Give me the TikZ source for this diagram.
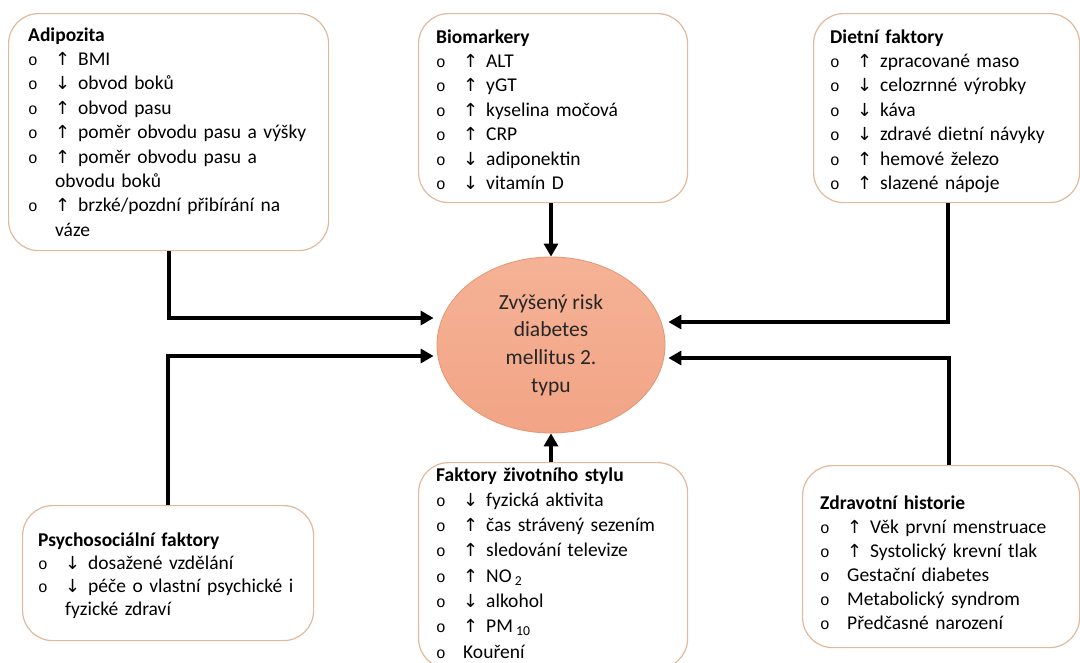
\documentclass[tikz,border=0pt]{standalone}
\usepackage{fontspec}
\setmainfont{Carlito}
\newfontfamily\arrfont{DejaVu Sans}
\newfontfamily\bulfont{Liberation Mono}
\usetikzlibrary{arrows.meta,shapes.geometric}

\definecolor{boxline}{RGB}{226,186,155}
\definecolor{risktop}{RGB}{245,178,150}
\definecolor{riskbot}{RGB}{242,164,134}
\definecolor{riskline}{RGB}{230,150,112}
\definecolor{risktext}{RGB}{38,38,38}

% list helpers: hollow bullet, hanging indent, up/down markers
\newcommand\bul{{\bulfont\fontsize{16}{16}\selectfont o}}
\newcommand\itm{\par\hangindent=27pt\hangafter=1\noindent\makebox[27pt][l]{\bul}}
\newcommand\up{\makebox[23pt][l]{\arrfont\fontsize{18}{18}\selectfont ↑}}
\newcommand\dn{\makebox[23pt][l]{\arrfont\fontsize{18}{18}\selectfont ↓}}

\tikzset{
  x=1pt, y=-1pt,
  factorbox/.style={draw=boxline, line width=1.2pt, rounded corners=30pt,
    fill=white, inner sep=0pt, anchor=north west},
  listtext/.style={anchor=base west, inner sep=0pt, text width=300pt,
    align=left, font=\fontsize{19.5}{#1}\selectfont},
  listtext/.default=24.4,
  conn/.style={line width=4pt, -{Triangle[length=13pt,width=14pt]}},
}

\begin{document}
\begin{tikzpicture}
\clip (0,0) rectangle (1080,662);
\fill[white] (0,0) rectangle (1080,662);

% outer factor boxes
\node[factorbox, minimum width=320pt, minimum height=237pt] (adip)  at (8,13)   {};
\node[factorbox, minimum width=269pt, minimum height=189pt] (bio)   at (418,13) {};
\node[factorbox, minimum width=266pt, minimum height=189pt] (diet)  at (813,13) {};
\node[factorbox, minimum width=291pt, minimum height=135pt] (psych) at (22,505) {};
\node[factorbox, minimum width=269pt, minimum height=206pt] (life)  at (418,462){};
\node[factorbox, minimum width=277pt, minimum height=182pt] (zdrav) at (802,465){};

% central outcome
\node[ellipse, draw=riskline, line width=0.8pt, top color=risktop,
      bottom color=riskbot, minimum width=228pt, minimum height=176pt,
      inner sep=0pt, align=center, text=risktext,
      font=\fontsize{21.5}{27.7}\selectfont] (risk) at (551,345)
  {Zvýšený risk\\diabetes\\mellitus 2.\\typu};

% box contents
\node[listtext] (adipT) at (28,41) {{\bfseries Adipozita}
  \itm\up BMI
  \itm\dn obvod boků
  \itm\up obvod pasu
  \itm\up poměr obvodu pasu a výšky
  \itm\up poměr obvodu pasu a\newline obvodu boků
  \itm\up brzké/pozdní přibírání na\newline váze\par};

\node[listtext] (bioT) at (436,43) {{\bfseries Biomarkery}
  \itm\up ALT
  \itm\up yGT
  \itm\up kyselina močová
  \itm\up CRP
  \itm\dn adiponektin
  \itm\dn vitamín D\par};

\node[listtext] (dietT) at (830,43) {{\bfseries Dietní faktory}
  \itm\up zpracované maso
  \itm\dn celozrnné výrobky
  \itm\dn káva
  \itm\dn zdravé dietní návyky
  \itm\up hemové železo
  \itm\up slazené nápoje\par};

\node[listtext=23] (psychT) at (38,546) {{\bfseries Psychosociální faktory}
  \itm\dn dosažené vzdělání
  \itm\dn péče o vlastní psychické i\newline fyzické zdraví\par};

\node[listtext=25.3] (lifeT) at (436,481) {{\bfseries Faktory životního stylu}
  \itm\dn fyzická aktivita
  \itm\up čas strávený sezením
  \itm\up sledování televize
  \itm\up NO\,\textsubscript{2}
  \itm\dn alkohol
  \itm\up PM\,\textsubscript{10}
  \itm Kouření\par};

\node[listtext=24] (zdravT) at (820,509) {{\bfseries Zdravotní historie}
  \itm\up Věk první menstruace
  \itm\up Systolický krevní tlak
  \itm Gestační diabetes
  \itm Metabolický syndrom
  \itm Předčasné narození\par};

% connectors into the outcome
\draw[conn] (bio.south -| risk.north) -- (risk.north);
\draw[conn] (life.north -| risk.south) -- (risk.south);
\draw[conn] (adip.south) |- ([xshift=-3pt,yshift=27pt]risk.west);
\draw[conn] (psych.north) |- ([xshift=-3pt,yshift=-11pt]risk.west);
\draw[conn] ([xshift=1pt]diet.south) |- ([xshift=3pt,yshift=23pt]risk.east);
\draw[conn] ([xshift=8pt]zdrav.north) |- ([xshift=3pt,yshift=-13pt]risk.east);
\end{tikzpicture}
\end{document}
